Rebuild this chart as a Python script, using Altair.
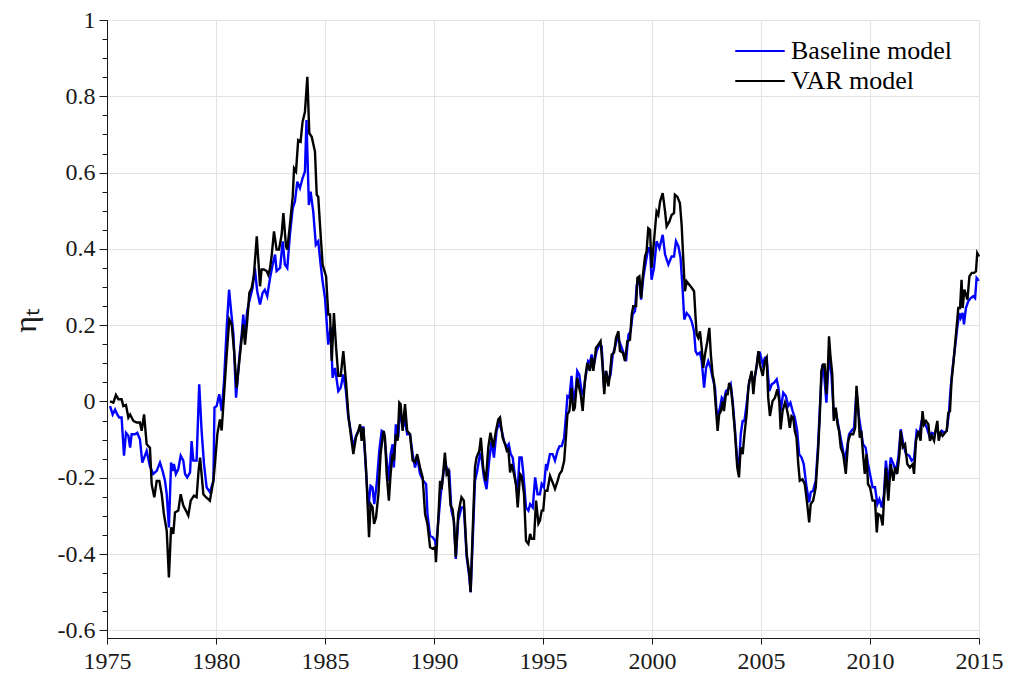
import altair as alt
import pandas as pd

# ---------------- data ----------------
var_years = [
    1975.14, 1975.29, 1975.41, 1975.52, 1975.67, 1975.75, 1975.87, 1975.98, 1976.06, 1976.21,
    1976.36, 1976.51, 1976.59, 1976.70, 1976.82, 1976.97, 1977.05, 1977.17, 1977.28, 1977.40,
    1977.51, 1977.61, 1977.74, 1977.84, 1977.94, 1978.04, 1978.12, 1978.27, 1978.38, 1978.50,
    1978.62, 1978.73, 1978.84, 1978.99, 1979.11, 1979.20, 1979.27, 1979.42, 1979.54, 1979.72,
    1979.88, 1979.95, 1980.06, 1980.18, 1980.26, 1980.37, 1980.49, 1980.61, 1980.72, 1980.83,
    1980.95, 1981.07, 1981.18, 1981.25, 1981.33, 1981.43, 1981.53, 1981.64, 1981.74, 1981.87,
    1982.02, 1982.09, 1982.20, 1982.32, 1982.40, 1982.48, 1982.55, 1982.66, 1982.78, 1982.89,
    1983.01, 1983.09, 1983.21, 1983.27, 1983.39, 1983.52, 1983.58, 1983.67, 1983.77, 1983.88,
    1983.97, 1984.08, 1984.19, 1984.28, 1984.39, 1984.54, 1984.62, 1984.69, 1984.77, 1984.89,
    1985.05, 1985.15, 1985.23, 1985.31, 1985.41, 1985.51, 1985.61, 1985.72, 1985.84, 1985.96,
    1986.07, 1986.18, 1986.30, 1986.42, 1986.53, 1986.61, 1986.68, 1986.76, 1986.88, 1987.02,
    1987.09, 1987.18, 1987.25, 1987.34, 1987.45, 1987.55, 1987.68, 1987.75, 1987.83, 1987.93,
    1988.01, 1988.10, 1988.16, 1988.25, 1988.33, 1988.41, 1988.47, 1988.56, 1988.67, 1988.77,
    1988.90, 1989.02, 1989.13, 1989.23, 1989.36, 1989.48, 1989.59, 1989.70, 1989.82, 1989.94,
    1990.05, 1990.09, 1990.20, 1990.28, 1990.35, 1990.43, 1990.50, 1990.58, 1990.66, 1990.76,
    1990.85, 1990.91, 1991.00, 1991.11, 1991.26, 1991.37, 1991.50, 1991.62, 1991.68, 1991.77,
    1991.88, 1991.95, 1992.08, 1992.15, 1992.26, 1992.38, 1992.49, 1992.59, 1992.72, 1992.84,
    1992.95, 1993.03, 1993.15, 1993.26, 1993.34, 1993.41, 1993.49, 1993.56, 1993.67, 1993.76,
    1993.84, 1993.95, 1994.02, 1994.13, 1994.22, 1994.33, 1994.41, 1994.48, 1994.59, 1994.68,
    1994.79, 1994.86, 1994.94, 1995.01, 1995.09, 1995.20, 1995.32, 1995.44, 1995.55, 1995.67,
    1995.76, 1995.86, 1995.97, 1996.06, 1996.12, 1996.21, 1996.31, 1996.39, 1996.46, 1996.57,
    1996.66, 1996.73, 1996.82, 1996.92, 1997.03, 1997.15, 1997.23, 1997.31, 1997.43, 1997.54,
    1997.64, 1997.74, 1997.81, 1997.89, 1998.00, 1998.07, 1998.15, 1998.26, 1998.35, 1998.46,
    1998.53, 1998.66, 1998.76, 1998.87, 1998.99, 1999.07, 1999.14, 1999.27, 1999.33, 1999.42,
    1999.50, 1999.57, 1999.68, 1999.75, 1999.83, 1999.91, 1999.98, 2000.09, 2000.21, 2000.29,
    2000.37, 2000.49, 2000.60, 2000.67, 2000.80, 2000.90, 2001.01, 2001.05, 2001.16, 2001.28,
    2001.36, 2001.44, 2001.51, 2001.59, 2001.71, 2001.82, 2001.93, 2002.00, 2002.05, 2002.12,
    2002.20, 2002.28, 2002.35, 2002.43, 2002.54, 2002.63, 2002.70, 2002.78, 2002.84, 2002.93,
    2003.01, 2003.08, 2003.16, 2003.24, 2003.30, 2003.39, 2003.47, 2003.54, 2003.62, 2003.70,
    2003.80, 2003.91, 2003.99, 2004.07, 2004.16, 2004.24, 2004.34, 2004.42, 2004.50, 2004.57,
    2004.65, 2004.73, 2004.81, 2004.88, 2004.95, 2005.08, 2005.18, 2005.26, 2005.33, 2005.41,
    2005.53, 2005.64, 2005.75, 2005.84, 2005.90, 2005.99, 2006.10, 2006.17, 2006.25, 2006.32,
    2006.40, 2006.48, 2006.55, 2006.63, 2006.71, 2006.78, 2006.90, 2007.01, 2007.12, 2007.21,
    2007.28, 2007.39, 2007.51, 2007.62, 2007.70, 2007.77, 2007.85, 2007.92, 2008.00, 2008.08,
    2008.12, 2008.18, 2008.27, 2008.34, 2008.43, 2008.51, 2008.58, 2008.66, 2008.77, 2008.89,
    2009.00, 2009.10, 2009.23, 2009.32, 2009.38, 2009.45, 2009.53, 2009.60, 2009.68, 2009.76,
    2009.84, 2009.91, 2010.00, 2010.12, 2010.23, 2010.31, 2010.38, 2010.49, 2010.58, 2010.64,
    2010.73, 2010.84, 2010.95, 2011.07, 2011.15, 2011.25, 2011.35, 2011.41, 2011.50, 2011.61,
    2011.71, 2011.83, 2011.96, 2012.02, 2012.11, 2012.22, 2012.32, 2012.41, 2012.48, 2012.57,
    2012.68, 2012.75, 2012.84, 2012.94, 2013.03, 2013.09, 2013.15, 2013.24, 2013.33, 2013.44,
    2013.52, 2013.59, 2013.67, 2013.74, 2013.82, 2013.90, 2013.97, 2014.05, 2014.13, 2014.20,
    2014.25, 2014.33, 2014.40, 2014.47, 2014.56, 2014.67, 2014.77, 2014.86, 2014.92, 2015.00,
]
var_values = [
    0.000, -0.003, 0.017, 0.006, 0.006, -0.012, -0.009, -0.042, -0.034, -0.051,
    -0.055, -0.055, -0.077, -0.034, -0.112, -0.121, -0.217, -0.251, -0.208, -0.208,
    -0.243, -0.295, -0.339, -0.461, -0.330, -0.347, -0.291, -0.286, -0.243, -0.273,
    -0.286, -0.299, -0.260, -0.247, -0.251, -0.182, -0.147, -0.243, -0.251, -0.260,
    -0.208, -0.164, -0.086, -0.047, -0.076, 0.019, 0.123, 0.215, 0.202, 0.132,
    0.036, 0.106, 0.167, 0.202, 0.149, 0.210, 0.285, 0.298, 0.332, 0.433,
    0.302, 0.346, 0.346, 0.342, 0.332, 0.350, 0.380, 0.446, 0.398, 0.398,
    0.437, 0.494, 0.407, 0.398, 0.463, 0.537, 0.611, 0.603, 0.685, 0.681,
    0.733, 0.759, 0.851, 0.703, 0.694, 0.655, 0.542, 0.537, 0.463, 0.359,
    0.328, 0.228, 0.228, 0.106, 0.232, 0.141, 0.067, 0.067, 0.132, 0.054,
    -0.034, -0.086, -0.138, -0.094, -0.077, -0.060, -0.103, -0.068, -0.173, -0.356,
    -0.269, -0.277, -0.321, -0.304, -0.243, -0.138, -0.077, -0.094, -0.190, -0.260,
    -0.190, -0.138, -0.155, -0.086, -0.103, -0.003, -0.007, -0.077, -0.007, -0.077,
    -0.086, -0.155, -0.159, -0.138, -0.173, -0.199, -0.295, -0.321, -0.382, -0.386,
    -0.382, -0.421, -0.304, -0.208, -0.230, -0.182, -0.134, -0.190, -0.182, -0.273,
    -0.282, -0.312, -0.408, -0.295, -0.251, -0.260, -0.400, -0.452, -0.500, -0.347,
    -0.173, -0.147, -0.129, -0.095, -0.177, -0.208, -0.120, -0.082, -0.120, -0.077,
    -0.047, -0.042, -0.095, -0.112, -0.129, -0.125, -0.186, -0.164, -0.190, -0.217,
    -0.278, -0.190, -0.195, -0.243, -0.365, -0.373, -0.347, -0.360, -0.360, -0.260,
    -0.320, -0.312, -0.286, -0.286, -0.234, -0.234, -0.195, -0.212, -0.229, -0.208,
    -0.190, -0.182, -0.156, -0.086, -0.034, -0.025, 0.036, -0.025, -0.016, 0.062,
    0.036, 0.019, -0.025, 0.054, 0.101, 0.080, 0.115, 0.080, 0.141, 0.149,
    0.158, 0.088, 0.019, 0.080, 0.040, 0.071, 0.123, 0.128, 0.167, 0.184,
    0.132, 0.128, 0.106, 0.158, 0.162, 0.228, 0.250, 0.250, 0.324, 0.328,
    0.271, 0.324, 0.380, 0.393, 0.454, 0.450, 0.350, 0.420, 0.498, 0.489,
    0.524, 0.546, 0.498, 0.459, 0.472, 0.489, 0.494, 0.542, 0.537, 0.520,
    0.463, 0.367, 0.289, 0.315, 0.306, 0.298, 0.289, 0.219, 0.176, 0.167,
    0.184, 0.141, 0.088, 0.123, 0.158, 0.193, 0.123, 0.071, 0.054, -0.016,
    -0.077, -0.034, -0.025, 0.001, -0.025, 0.019, 0.019, 0.049, 0.036, -0.008,
    -0.077, -0.173, -0.199, -0.120, -0.138, -0.086, -0.034, 0.036, 0.062, 0.080,
    0.019, 0.071, 0.097, 0.132, 0.097, 0.067, 0.106, 0.115, 0.010, -0.038,
    0.001, 0.010, 0.032, 0.001, -0.073, -0.025, -0.003, -0.016, -0.038, -0.069,
    -0.038, -0.042, -0.077, -0.095, -0.164, -0.208, -0.204, -0.217, -0.269, -0.317,
    -0.269, -0.260, -0.225, -0.129, -0.034, 0.080, 0.097, 0.097, 0.019, 0.106,
    0.171, 0.123, 0.071, -0.051, -0.016, -0.060, -0.077, -0.121, -0.138, -0.190,
    -0.103, -0.086, -0.086, -0.069, 0.041, -0.008, -0.095, -0.077, -0.138, -0.190,
    -0.138, -0.217, -0.225, -0.260, -0.260, -0.343, -0.295, -0.299, -0.325, -0.260,
    -0.173, -0.260, -0.164, -0.208, -0.173, -0.190, -0.138, -0.077, -0.120, -0.112,
    -0.164, -0.173, -0.164, -0.190, -0.103, -0.077, -0.103, -0.025, -0.060, -0.051,
    -0.060, -0.103, -0.090, -0.103, -0.068, -0.051, -0.103, -0.082, -0.090, -0.082,
    -0.077, -0.030, -0.025, 0.054, 0.097, 0.149, 0.193, 0.245, 0.245, 0.319,
    0.245, 0.293, 0.280, 0.267, 0.328, 0.337, 0.337, 0.341, 0.389, 0.380,
]

base_years = [
    1975.14, 1975.26, 1975.37, 1975.47, 1975.56, 1975.67, 1975.78, 1975.87, 1975.98, 1976.06,
    1976.13, 1976.28, 1976.39, 1976.51, 1976.62, 1976.82, 1976.97, 1977.12, 1977.28, 1977.43,
    1977.55, 1977.66, 1977.74, 1977.84, 1977.94, 1978.01, 1978.07, 1978.16, 1978.27, 1978.38,
    1978.50, 1978.58, 1978.68, 1978.81, 1978.88, 1978.96, 1979.11, 1979.23, 1979.34, 1979.45,
    1979.57, 1979.72, 1979.88, 1979.93, 1980.03, 1980.15, 1980.26, 1980.37, 1980.49, 1980.60,
    1980.68, 1980.80, 1980.92, 1981.07, 1981.18, 1981.25, 1981.33, 1981.43, 1981.56, 1981.68,
    1981.78, 1981.89, 1982.02, 1982.14, 1982.24, 1982.35, 1982.48, 1982.60, 1982.71, 1982.78,
    1982.94, 1983.06, 1983.16, 1983.27, 1983.39, 1983.52, 1983.62, 1983.73, 1983.85, 1983.97,
    1984.08, 1984.15, 1984.26, 1984.34, 1984.46, 1984.58, 1984.69, 1984.80, 1984.89, 1985.00,
    1985.15, 1985.26, 1985.35, 1985.46, 1985.61, 1985.72, 1985.84, 1985.96, 1986.07, 1986.18,
    1986.30, 1986.42, 1986.53, 1986.64, 1986.76, 1986.88, 1986.99, 1987.09, 1987.18, 1987.26,
    1987.37, 1987.49, 1987.60, 1987.71, 1987.83, 1987.93, 1988.01, 1988.10, 1988.16, 1988.25,
    1988.36, 1988.44, 1988.56, 1988.67, 1988.77, 1988.90, 1989.02, 1989.13, 1989.23, 1989.36,
    1989.51, 1989.64, 1989.70, 1989.82, 1989.94, 1990.05, 1990.09, 1990.20, 1990.31, 1990.43,
    1990.50, 1990.61, 1990.70, 1990.80, 1990.91, 1991.00, 1991.11, 1991.26, 1991.37, 1991.50,
    1991.62, 1991.68, 1991.77, 1991.88, 1991.98, 1992.11, 1992.18, 1992.29, 1992.41, 1992.53,
    1992.64, 1992.75, 1992.87, 1992.98, 1993.11, 1993.21, 1993.34, 1993.43, 1993.52, 1993.61,
    1993.72, 1993.83, 1993.92, 1994.02, 1994.10, 1994.22, 1994.33, 1994.41, 1994.53, 1994.64,
    1994.75, 1994.86, 1994.94, 1995.04, 1995.14, 1995.20, 1995.32, 1995.44, 1995.55, 1995.67,
    1995.76, 1995.86, 1995.97, 1996.06, 1996.12, 1996.21, 1996.31, 1996.39, 1996.51, 1996.57,
    1996.66, 1996.77, 1996.85, 1996.97, 1997.07, 1997.15, 1997.23, 1997.34, 1997.46, 1997.58,
    1997.69, 1997.80, 1997.89, 1998.00, 1998.10, 1998.20, 1998.30, 1998.41, 1998.50, 1998.61,
    1998.72, 1998.81, 1998.92, 1999.02, 1999.11, 1999.22, 1999.30, 1999.42, 1999.50, 1999.60,
    1999.72, 1999.83, 1999.91, 1999.98, 2000.09, 2000.21, 2000.34, 2000.49, 2000.60, 2000.75,
    2000.90, 2001.01, 2001.10, 2001.21, 2001.31, 2001.41, 2001.48, 2001.59, 2001.71, 2001.82,
    2001.93, 2002.00, 2002.08, 2002.20, 2002.28, 2002.39, 2002.48, 2002.58, 2002.69, 2002.78,
    2002.89, 2002.97, 2003.04, 2003.12, 2003.20, 2003.30, 2003.39, 2003.50, 2003.61, 2003.70,
    2003.80, 2003.91, 2003.99, 2004.07, 2004.16, 2004.24, 2004.34, 2004.46, 2004.57, 2004.68,
    2004.77, 2004.88, 2004.95, 2005.08, 2005.18, 2005.26, 2005.38, 2005.49, 2005.60, 2005.72,
    2005.80, 2005.90, 2006.02, 2006.14, 2006.25, 2006.35, 2006.45, 2006.55, 2006.66, 2006.75,
    2006.86, 2006.96, 2007.09, 2007.21, 2007.28, 2007.39, 2007.51, 2007.62, 2007.70, 2007.81,
    2007.89, 2008.00, 2008.08, 2008.15, 2008.23, 2008.34, 2008.43, 2008.51, 2008.62, 2008.74,
    2008.84, 2008.95, 2009.04, 2009.15, 2009.27, 2009.38, 2009.48, 2009.57, 2009.68, 2009.80,
    2009.91, 2010.00, 2010.12, 2010.23, 2010.34, 2010.43, 2010.54, 2010.64, 2010.73, 2010.84,
    2010.95, 2011.07, 2011.19, 2011.30, 2011.41, 2011.53, 2011.65, 2011.80, 2011.91, 2012.02,
    2012.14, 2012.26, 2012.37, 2012.48, 2012.60, 2012.72, 2012.83, 2012.94, 2013.06, 2013.18,
    2013.29, 2013.40, 2013.52, 2013.62, 2013.70, 2013.79, 2013.90, 2014.00, 2014.10, 2014.16,
    2014.25, 2014.31, 2014.40, 2014.51, 2014.62, 2014.74, 2014.82, 2014.89, 2014.97, 2015.00,
]
base_values = [
    -0.012, -0.034, -0.021, -0.034, -0.042, -0.042, -0.142, -0.082, -0.090, -0.121,
    -0.086, -0.086, -0.082, -0.099, -0.160, -0.130, -0.170, -0.190, -0.182, -0.160,
    -0.182, -0.208, -0.243, -0.330, -0.160, -0.182, -0.164, -0.190, -0.177, -0.142,
    -0.155, -0.190, -0.199, -0.186, -0.104, -0.155, -0.155, 0.045, -0.077, -0.164,
    -0.225, -0.238, -0.208, -0.016, -0.012, 0.019, -0.025, 0.054, 0.193, 0.293,
    0.245, 0.176, 0.010, 0.115, 0.176, 0.228, 0.176, 0.237, 0.271, 0.298,
    0.350, 0.289, 0.254, 0.285, 0.293, 0.276, 0.324, 0.359, 0.385, 0.342,
    0.350, 0.420, 0.359, 0.350, 0.437, 0.507, 0.524, 0.576, 0.559, 0.585,
    0.603, 0.738, 0.515, 0.550, 0.498, 0.411, 0.420, 0.359, 0.315, 0.271,
    0.149, 0.195, 0.062, 0.088, 0.027, 0.036, 0.071, 0.027, -0.042, -0.077,
    -0.120, -0.090, -0.077, -0.068, -0.068, -0.182, -0.277, -0.221, -0.225, -0.269,
    -0.217, -0.129, -0.077, -0.081, -0.155, -0.208, -0.138, -0.112, -0.173, -0.060,
    -0.094, -0.016, -0.068, -0.051, -0.086, -0.086, -0.138, -0.173, -0.147, -0.190,
    -0.208, -0.217, -0.295, -0.352, -0.356, -0.365, -0.382, -0.312, -0.243, -0.190,
    -0.155, -0.182, -0.182, -0.286, -0.312, -0.413, -0.312, -0.278, -0.278, -0.408,
    -0.460, -0.500, -0.373, -0.208, -0.182, -0.138, -0.147, -0.199, -0.230, -0.155,
    -0.104, -0.147, -0.077, -0.055, -0.077, -0.104, -0.120, -0.112, -0.138, -0.147,
    -0.199, -0.243, -0.147, -0.147, -0.190, -0.278, -0.286, -0.269, -0.278, -0.199,
    -0.243, -0.243, -0.216, -0.225, -0.164, -0.173, -0.138, -0.138, -0.155, -0.129,
    -0.117, -0.117, -0.095, -0.034, 0.014, 0.010, 0.067, 0.001, 0.036, 0.080,
    0.071, 0.027, 0.019, 0.071, 0.106, 0.101, 0.123, 0.097, 0.132, 0.149,
    0.145, 0.036, 0.080, 0.054, 0.071, 0.123, 0.141, 0.167, 0.158, 0.141,
    0.123, 0.106, 0.175, 0.184, 0.228, 0.237, 0.306, 0.315, 0.267, 0.324,
    0.367, 0.402, 0.402, 0.319, 0.350, 0.420, 0.402, 0.437, 0.385, 0.359,
    0.380, 0.380, 0.420, 0.407, 0.376, 0.289, 0.215, 0.232, 0.224, 0.210,
    0.184, 0.132, 0.123, 0.128, 0.106, 0.036, 0.088, 0.106, 0.088, 0.062,
    0.036, -0.034, -0.034, -0.016, 0.010, 0.001, 0.027, 0.032, 0.045, 0.001,
    -0.069, -0.155, -0.173, -0.086, -0.051, -0.051, -0.008, 0.054, 0.067, 0.054,
    0.080, 0.128, 0.128, 0.097, 0.115, 0.115, 0.027, 0.045, 0.049, 0.058,
    0.036, -0.025, 0.023, 0.014, -0.012, -0.003, -0.025, -0.042, -0.077, -0.138,
    -0.147, -0.164, -0.225, -0.264, -0.238, -0.234, -0.208, -0.112, -0.016, 0.097,
    0.075, -0.003, 0.080, 0.115, 0.071, -0.034, -0.025, -0.051, -0.086, -0.121,
    -0.155, -0.121, -0.086, -0.077, -0.069, 0.027, -0.034, -0.069, -0.112, -0.121,
    -0.164, -0.190, -0.225, -0.225, -0.269, -0.256, -0.278, -0.243, -0.155, -0.217,
    -0.147, -0.164, -0.182, -0.147, -0.073, -0.112, -0.138, -0.142, -0.155, -0.150,
    -0.077, -0.086, -0.051, -0.053, -0.068, -0.090, -0.082, -0.086, -0.073, -0.086,
    -0.077, -0.082, -0.077, -0.030, 0.036, 0.088, 0.141, 0.193, 0.232, 0.219,
    0.232, 0.202, 0.245, 0.263, 0.271, 0.276, 0.271, 0.324, 0.319, 0.320,
]

series_names = ["Baseline model", "VAR model"]
series_colors = ["#0000ff", "#000000"]

x_tick_values = [1975, 1980, 1985, 1990, 1995, 2000, 2005, 2010, 2015]
y_tick_values = [-0.6, -0.4, -0.2, 0, 0.2, 0.4, 0.6, 0.8, 1]
y_minor_values = [-0.6, -0.55, -0.5, -0.45, -0.4, -0.35, -0.3, -0.25, -0.2, -0.15,
                  -0.1, -0.05, 0, 0.05, 0.1, 0.15, 0.2, 0.25, 0.3, 0.35, 0.4,
                  0.45, 0.5, 0.55, 0.6, 0.65, 0.7, 0.75, 0.8, 0.85, 0.9, 0.95, 1]

# ---------------- tables ----------------
df_base = pd.DataFrame({"year": base_years, "eta": base_values, "model": series_names[0]})
df_var = pd.DataFrame({"year": var_years, "eta": var_values, "model": series_names[1]})

FONT = "Liberation Serif"
INK = "#1a1a1a"
GRID = "#e3e3e3"

x_scale = alt.Scale(domain=[1975, 2015], nice=False, zero=False)
y_scale = alt.Scale(domain=[-0.62, 1], nice=False, zero=False)

color = alt.Color(
    "model:N",
    scale=alt.Scale(domain=series_names, range=series_colors),
    legend=alt.Legend(
        title=None,
        orient="none",
        legendX=627,
        legendY=18,
        symbolType="stroke",
        symbolSize=2450,
        symbolStrokeWidth=2,
        labelFont=FONT,
        labelFontSize=26,
        labelColor="#000000",
        labelOffset=5,
        labelLimit=400,
        rowPadding=4,
        clipHeight=26,
    ),
)

x_axis = alt.Axis(
    values=x_tick_values,
    format="d",
    title=None,
    labelFont=FONT,
    labelFontSize=24,
    labelColor=INK,
    labelPadding=5,
    tickSize=6,
    tickColor=INK,
    domainColor=INK,
    gridColor=GRID,
    labelFlush=False,
)

x_enc = alt.X("year:Q", scale=x_scale, axis=x_axis)

y_enc = alt.Y(
    "eta:Q",
    scale=y_scale,
    axis=alt.Axis(
        values=y_tick_values,
        labelExpr="toString(datum.value)",
        title="ηₜ",
        titleFont=FONT,
        titleFontSize=32,
        titleFontWeight="normal",
        titleColor=INK,
        titleX=-82,
        titleY=300,
        titleAlign="center",
        titleBaseline="middle",
        titleAngle=270,
        labelFont=FONT,
        labelFontSize=24,
        labelColor=INK,
        labelPadding=4,
        tickSize=8,
        tickColor=INK,
        domainColor=INK,
        gridColor=GRID,
        orient="left",
    ),
)

base_line = alt.Chart(df_base).mark_line(strokeWidth=2.4).encode(
    x=x_enc, y=y_enc, color=color
)

var_line = alt.Chart(df_var).mark_line(strokeWidth=2.4).encode(
    x=x_enc,
    y=alt.Y("eta:Q", scale=y_scale, axis=None),
    color=color,
)

minor_axis = alt.Chart(df_var).mark_line(opacity=0).encode(
    x=x_enc,
    y=alt.Y(
        "eta:Q",
        scale=y_scale,
        axis=alt.Axis(
            values=y_minor_values,
            labels=False,
            ticks=True,
            tickSize=5,
            tickColor=INK,
            domain=False,
            grid=False,
            title=None,
            orient="left",
        ),
    ),
)

chart = (
    alt.layer(base_line, var_line, minor_axis)
    .resolve_axis(y="independent")
    .properties(
        width=872,
        height=618,
        autosize=alt.AutoSizeParams(type="none"),
        padding={"left": 99, "top": 12, "right": 24, "bottom": 36},
        background="#ffffff",
    )
    .configure(font=FONT)
    .configure_view(stroke=None)
    .configure_axis(gridWidth=1, labelFont=FONT, titleFont=FONT)
    .configure_legend(labelFont=FONT)
)

chart.save("out.html", embed_options={"renderer": "svg", "actions": False})
